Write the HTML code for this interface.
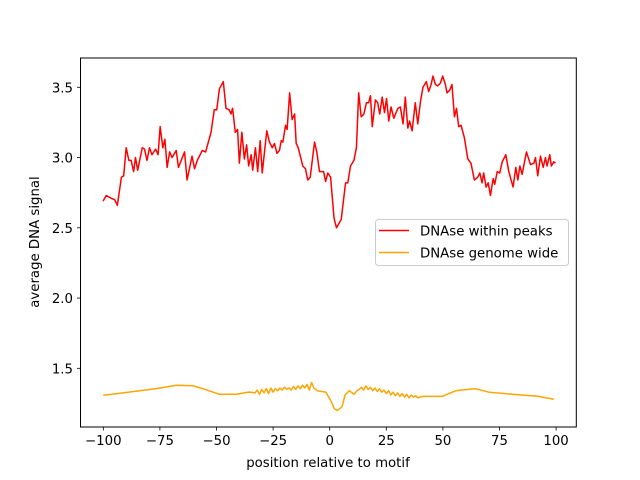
<!DOCTYPE html>
<html><head><meta charset="utf-8"><style>
html,body{margin:0;padding:0;background:#fff;}
svg{display:block;font-family:"DejaVu Sans","Liberation Sans",sans-serif;}
</style></head><body>
<svg id="chart" width="640" height="480" viewBox="0 0 640 480" xmlns="http://www.w3.org/2000/svg">
<rect x="0" y="0" width="640" height="480" fill="#fff"/>
<g id="plot"></g>
<rect x="80.5" y="58" width="495.8" height="369" fill="none" stroke="#000" stroke-width="1"/>
<g id="xticks" font-size="13.3" fill="#000"></g>
<g id="yticks" font-size="13.3" fill="#000"></g>
<text x="328" y="467" font-size="13.3" text-anchor="middle">position relative to motif</text>
<text transform="translate(39,242) rotate(-90)" font-size="13.3" text-anchor="middle">average DNA signal</text>
<g>
<rect x="375.5" y="219.5" width="193" height="46" rx="3" fill="#fff" fill-opacity="0.8" stroke="#ccc"/>
<line x1="379" y1="230.5" x2="409" y2="230.5" stroke="red" stroke-width="1.5"/>
<text x="420" y="235.5" font-size="13.3">DNAse within peaks</text>
<line x1="379" y1="252.5" x2="409" y2="252.5" stroke="orange" stroke-width="1.5"/>
<text x="420" y="257.5" font-size="13.3">DNAse genome wide</text>
</g>
</svg>
<script>
const redX=[-100.1,-98.7,-96.5,-95,-93.8,-92,-91,-89.9,-88.7,-87.7,-86.6,-85.8,-84.8,-82.8,-81.8,-80.7,-79.6,-78.5,-76.9,-75.8,-74.9,-73.7,-72.8,-71.8,-70.7,-69.6,-67.8,-66.8,-64.1,-63,-60.8,-59.7,-58.5,-56.3,-54.8,-52.4,-51,-49.9,-48.7,-47,-45.8,-44.4,-43.6,-42.9,-41.7,-40.7,-39.9,-38.8,-37.7,-36.7,-35.8,-34.7,-34,-32.8,-31.8,-30.7,-29.8,-27.8,-26.6,-25.4,-24.4,-23.3,-22.2,-21.4,-20.7,-19.5,-18.8,-17.7,-16.6,-15.5,-14.8,-13.9,-11.9,-10.7,-9.7,-8.6,-6.7,-5.7,-4.5,-2.7,-1.8,-0.8,0.4,1.9,3.0,5.1,7.0,8.0,9.2,10.7,11.8,12.8,13.9,15.1,16.2,17.2,18.0,18.8,20.2,21.2,22.1,23.2,24.2,25.1,26.1,27.1,28.3,30.1,31.2,32.4,33.4,34.5,35.3,36.4,37.8,38.9,40.1,41.2,42.7,43.7,44.8,45.6,46.7,47.7,48.9,49.9,51.1,51.8,53,54,55.1,56,57,58,59.5,61,62.4,63.9,65.4,66.3,67.3,68.0,69.1,70.0,71.0,72.2,72.9,74,75.1,76.2,77.8,79.1,81,82.2,83.1,84,85,86.9,88.7,90.2,90.9,91.9,93.1,94.3,95.3,96.0,97.2,97.9,99,99.7];
const redY=[2.69,2.73,2.71,2.70,2.66,2.86,2.87,3.07,2.98,2.98,2.90,3.0,2.91,3.07,3.06,2.98,3.07,3.02,3.06,3.02,3.22,3.07,3.13,2.93,3.04,3.00,3.05,2.93,3.04,2.84,3.01,2.92,2.98,3.05,3.04,3.18,3.34,3.34,3.49,3.54,3.35,3.34,3.31,3.35,3.18,3.20,2.96,3.18,2.99,3.09,2.94,3.02,2.91,3.07,2.90,3.12,2.89,3.19,3.11,3.07,3.10,3.03,3.05,3.12,3.11,3.23,3.20,3.46,3.27,3.31,3.10,3.07,2.94,2.92,2.84,2.86,3.11,3.04,2.90,2.90,2.83,2.89,2.86,2.57,2.50,2.56,2.82,2.82,2.94,2.98,3.07,3.46,3.29,3.31,3.39,3.39,3.44,3.22,3.41,3.39,3.31,3.43,3.32,3.42,3.26,3.36,3.28,3.35,3.36,3.24,3.43,3.21,3.26,3.19,3.39,3.24,3.40,3.50,3.54,3.47,3.52,3.58,3.52,3.51,3.53,3.58,3.52,3.46,3.48,3.52,3.29,3.35,3.22,3.23,3.14,2.99,2.96,2.84,2.86,2.89,2.82,2.89,2.79,2.82,2.73,2.85,2.81,2.90,2.89,2.97,3.02,2.90,2.79,2.93,2.84,2.94,2.88,3.04,2.95,2.96,3.00,2.87,3.01,2.93,3.00,2.94,3.02,2.94,2.97,2.96];
const orangeX=[-100,-88.3,-76.5,-67.7,-60.4,-56,-48.7,-41.3,-35.5,-33,-32,-31,-30,-29,-28,-27,-26,-25,-24,-23,-22,-21,-20,-19,-18,-17,-16,-15,-14,-13,-12,-11,-10,-9,-8,-7,-5.4,-1.7,0.5,2,3.4,5.4,6.8,8.6,10.8,12,13,14,15,16,17,18,19,20,21,22,23,24,25,26,27,28,29,30,31,32,33,34,35,36,37,38,39,40.9,49.7,55.6,64.4,70.3,80.6,92.3,99];
const orangeY=[1.308,1.331,1.355,1.379,1.376,1.355,1.315,1.315,1.331,1.325,1.345,1.315,1.35,1.325,1.355,1.32,1.36,1.33,1.355,1.34,1.36,1.345,1.365,1.35,1.36,1.345,1.37,1.35,1.375,1.355,1.38,1.36,1.385,1.345,1.40,1.36,1.34,1.33,1.27,1.213,1.20,1.225,1.31,1.34,1.315,1.34,1.35,1.365,1.345,1.375,1.35,1.365,1.34,1.36,1.335,1.355,1.33,1.345,1.32,1.34,1.31,1.33,1.305,1.325,1.30,1.32,1.295,1.315,1.29,1.31,1.295,1.305,1.29,1.30,1.30,1.34,1.355,1.33,1.315,1.30,1.28];
const xTicks=[-100,-75,-50,-25,0,25,50,75,100];
const yTicks=[1.5,2.0,2.5,3.0,3.5];
const yTickLabels=["1.5","2.0","2.5","3.0","3.5"];

const NS="http://www.w3.org/2000/svg";
function sx(v){return 329.7+v*2.264;}
function sy(v){return 87.3-(v-3.5)*140.5;}
function mk(tag,attrs,parent){const e=document.createElementNS(NS,tag);for(const k in attrs)e.setAttribute(k,attrs[k]);parent.appendChild(e);return e;}
const plot=document.getElementById('plot');
function line(xs,ys,color,name){
  const d=xs.map((x,i)=>(i?'L':'M')+sx(x).toFixed(2)+','+sy(ys[i]).toFixed(2)).join('');
  const p=mk('path',{d:d,fill:'none',stroke:color,'stroke-width':1.5,'stroke-linejoin':'round'},plot);
  
  
}
line(orangeX,orangeY,'orange','series-genome-wide');
line(redX,redY,'red','series-within-peaks');
const xg=document.getElementById('xticks');
xTicks.forEach(t=>{
  const l=mk('line',{x1:sx(t),x2:sx(t),y1:427,y2:430.5,stroke:'#000','stroke-width':0.8},xg);
  
  
  const tx=mk('text',{x:sx(t),y:445,'text-anchor':'middle'},xg);
  tx.textContent=(t<0?'\u2212'+(-t):String(t));
  
  
});
const yg=document.getElementById('yticks');
yTicks.forEach((t,i)=>{
  const l=mk('line',{x1:77,x2:80.5,y1:sy(t),y2:sy(t),stroke:'#000','stroke-width':0.8},yg);
  
  
  const tx=mk('text',{x:73,y:sy(t)+5,'text-anchor':'end'},yg);
  tx.textContent=yTickLabels[i];
  
  
});
</script>
</body></html>
